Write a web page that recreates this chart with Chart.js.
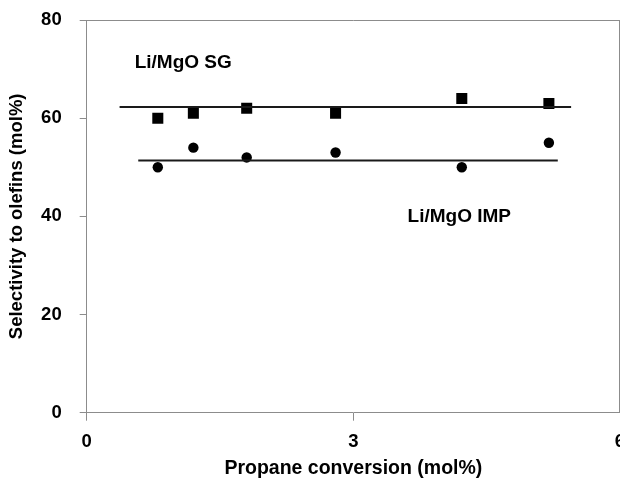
<!DOCTYPE html>
<html>
<head>
<meta charset="utf-8">
<script src="https://cdn.jsdelivr.net/npm/chart.js@4/dist/chart.umd.min.js"></script>
<style>
    html, body { margin: 0; padding: 0; background: #fff; }
    #wrap { width: 620px; height: 485px; position: relative; }
</style>
</head>
<body>
<div id="wrap"><canvas id="olefinChart"></canvas></div>
<script>
// conversion (mol%) for each run
const conversion = [0.8, 1.2, 1.8, 2.8, 4.22, 5.2];
const selectivitySG = [60, 61, 62, 61, 64, 63];
const selectivityIMP = [50, 54, 52, 53, 50, 55];

// average lines [x start, x end], level
const lineSGx = [0.37, 5.45];
const lineSGy = 62.3;
const lineIMPx = [0.58, 5.3];
const lineIMPy = 51.4;

const xTicks = [0, 3, 6];
const yTicks = [0, 20, 40, 60, 80];

// text labels placed in data units
const seriesLabels = ['Li/MgO SG', 'Li/MgO IMP'];
const labelX = [0.54, 3.61];
const labelY = [71.2, 39.9];

const FONT = 'Arial, "Liberation Sans", sans-serif';
const axisGrey = '#8c8c8c';

function toPoints(xs, ys) {
    return xs.map((x, i) => ({ x: x, y: ys[i] }));
}

function flatLine(xs, level) {
    return xs.map(x => ({ x: x, y: level }));
}

const frameAndLabels = {
    id: 'frameAndLabels',
    afterDraw(chart) {
        const { ctx, chartArea, scales } = chart;
        ctx.save();
        ctx.strokeStyle = axisGrey;
        ctx.lineWidth = 1;
        ctx.beginPath();
        ctx.moveTo(chartArea.left, chartArea.top + 0.5);
        ctx.lineTo(chartArea.right, chartArea.top + 0.5);
        ctx.moveTo(chartArea.right - 0.5, chartArea.top);
        ctx.lineTo(chartArea.right - 0.5, chartArea.bottom);
        ctx.stroke();

        ctx.fillStyle = '#000';
        ctx.font = 'bold 19px ' + FONT;
        ctx.textAlign = 'left';
        ctx.textBaseline = 'middle';
        seriesLabels.forEach((txt, i) => {
            ctx.fillText(txt, scales.x.getPixelForValue(labelX[i]), scales.y.getPixelForValue(labelY[i]));
        });
        ctx.restore();
    }
};

const ctx = document.getElementById('olefinChart').getContext('2d');
const olefinChart = new Chart(ctx, {
    type: 'scatter',
    data: {
        datasets: [
            {
                label: 'SG trend',
                type: 'line',
                data: flatLine(lineSGx, lineSGy),
                borderColor: '#1a1a1a',
                borderWidth: 2,
                pointRadius: 0,
                fill: false
            },
            {
                label: 'IMP trend',
                type: 'line',
                data: flatLine(lineIMPx, lineIMPy),
                borderColor: '#1a1a1a',
                borderWidth: 2,
                pointRadius: 0,
                fill: false
            },
            {
                label: 'Li/MgO SG',
                data: toPoints(conversion, selectivitySG),
                pointStyle: 'rect',
                pointRadius: 7.8,
                backgroundColor: '#000',
                borderColor: '#000',
                borderWidth: 0
            },
            {
                label: 'Li/MgO IMP',
                data: toPoints(conversion, selectivityIMP),
                pointStyle: 'circle',
                pointRadius: 5.2,
                backgroundColor: '#000',
                borderColor: '#000',
                borderWidth: 0
            }
        ]
    },
    options: {
        responsive: true,
        maintainAspectRatio: false,
        animation: false,
        layout: { autoPadding: false, padding: { top: 20, right: 0, left: 0, bottom: 0 } },
        plugins: {
            legend: { display: false },
            tooltip: { enabled: false }
        },
        scales: {
            x: {
                type: 'linear',
                min: 0,
                max: 6,
                afterBuildTicks(scale) {
                    scale.ticks = xTicks.map(v => ({ value: v }));
                },
                afterFit(scale) {
                    scale.height = 72.3;
                    scale.paddingLeft = 0;
                    scale.paddingRight = 0;
                },
                grid: { display: true, drawOnChartArea: false, drawTicks: true, tickLength: 8, color: axisGrey },
                border: { display: true, color: axisGrey, width: 1 },
                ticks: {
                    color: '#000',
                    padding: 10,
                    maxRotation: 0,
                    font: { family: FONT, size: 18.5, weight: 'bold' }
                },
                title: {
                    display: true,
                    text: 'Propane conversion (mol%)',
                    color: '#000',
                    padding: { top: 0, bottom: 5 },
                    font: { family: FONT, size: 19.5, weight: 'bold' }
                }
            },
            y: {
                type: 'linear',
                min: 0,
                max: 80,
                afterBuildTicks(scale) {
                    scale.ticks = yTicks.map(v => ({ value: v }));
                },
                afterFit(scale) {
                    scale.width = 86.7;
                    scale.paddingTop = 0;
                    scale.paddingBottom = 0;
                },
                grid: { display: true, drawOnChartArea: false, drawTicks: true, tickLength: 7, color: axisGrey },
                border: { display: true, color: axisGrey, width: 1 },
                ticks: {
                    color: '#000',
                    padding: 18,
                    font: { family: FONT, size: 18.5, weight: 'bold' }
                },
                title: {
                    display: true,
                    text: 'Selectivity to olefins (mol%)',
                    color: '#000',
                    padding: { top: 6, bottom: 0 },
                    font: { family: FONT, size: 18.5, weight: 'bold' }
                }
            }
        }
    },
    plugins: [frameAndLabels]
});
</script>
</body>
</html>
